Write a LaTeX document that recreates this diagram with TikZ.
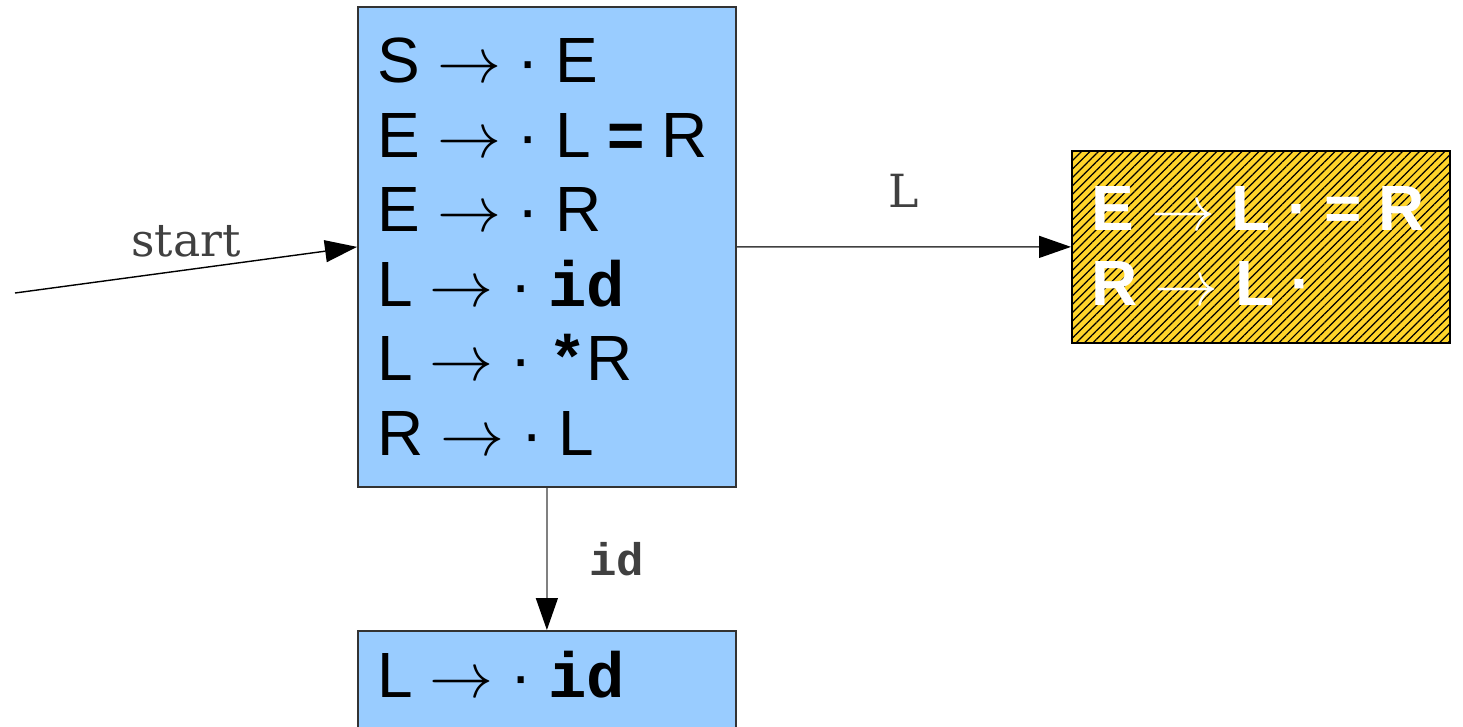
\RequirePackage{fix-cm}
\documentclass[tikz,border=0pt]{standalone}
\usepackage{fontspec}
\setmainfont{Liberation Sans}
\setmonofont{Liberation Mono}
\newfontfamily\nhanfont{DejaVu Serif}
\usepackage{tikz}
\usetikzlibrary{arrows.meta, patterns.meta, positioning}

\definecolor{xanhnhat}{HTML}{99CCFF}
\definecolor{vang}{HTML}{FFD42A}
\definecolor{xamdam}{HTML}{404040}

\newcommand{\kc}{\hspace{0.165cm}}
\newcommand{\mui}{\kc$\rightarrow$\kc}
\newcommand{\cacmuc}[1]{\begin{tabular}[t]{@{}l@{}}#1\end{tabular}}

\tikzset{
    trangthai/.style={draw=black!80, line width=0.5pt, fill=xanhnhat,
        anchor=north west, minimum width=3.78cm, text width=3.38cm,
        inner xsep=0.19cm, inner ysep=0.05cm, align=left,
        font=\fontsize{18.2}{21.2}\selectfont},
    trangthaivang/.style={trangthai, draw=black, fill=vang,
        postaction={pattern={Lines[angle=45, distance=1.7pt, line width=0.35pt]}},
        text=white, font=\fontsize{18.2}{21.2}\selectfont\bfseries},
    canh/.style={-{Triangle[length=0.32cm, width=0.22cm, color=black]},
        line width=0.4pt},
    nhan/.style={text=xamdam, font=\nhanfont\fontsize{13}{15}\selectfont}
}

\begin{document}
\begin{tikzpicture}
    \useasboundingbox (0,0) rectangle (14.63,7.26);

    % 1. Các trạng thái
    \node[trangthai, minimum height=4.80cm,
        text height=0.67cm, text depth=3.95cm] (I0) at (3.57,7.20) {%
        \cacmuc{S\mui·\kc E\\
        E\mui·\kc L\kc\textbf{=}\kc R\\
        E\mui·\kc R\\
        L\mui·\kc\texttt{\textbf{id}}\\
        L\mui·\kc\texttt{\textbf{*}}R\\
        R\mui·\kc L}};

    \node[trangthaivang, minimum height=1.92cm,
        text height=0.65cm, text depth=0.97cm] (I2) at (10.71,5.76) {%
        \cacmuc{E\mui L\kc·\kc=\kc R\\
        R\mui L\kc·}};

    \node[trangthai, minimum height=1.0cm,
        text height=0.55cm, text depth=0.21cm] (I1) at (3.57,0.96)
        {\cacmuc{L\mui·\kc\texttt{\textbf{id}}}};

    % 2. Các cạnh chuyển
    \coordinate (goc) at (0.15,4.33);
    \draw[canh] (goc) -- (I0.west)
        node[nhan, midway, above] {start};

    \draw[canh, draw=xamdam] (I0.east) -- (I2.west)
        node[nhan, midway, above=0.27cm] {L};

    \draw[canh, draw=gray] (I0.south) -- (I1.north)
        node[nhan, midway, right=0.3cm,
            font=\ttfamily\bfseries\fontsize{13}{15}\selectfont] {id};
\end{tikzpicture}
\end{document}
